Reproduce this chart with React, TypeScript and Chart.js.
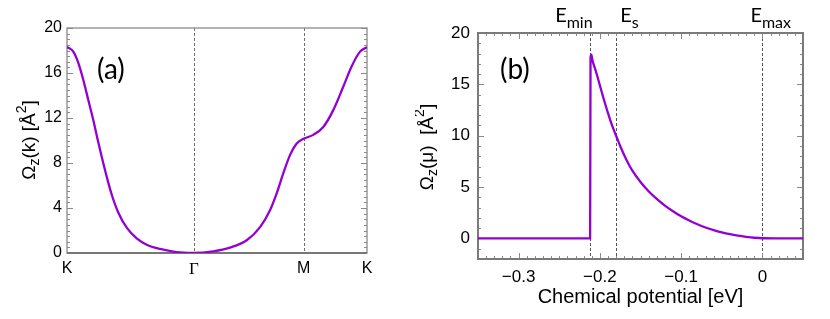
import React, { useEffect, useRef } from 'react';
import { Chart, registerables } from 'chart.js';

Chart.register(...registerables);

const PURPLE = '#9400D3';
const SANS = '"Liberation Sans", Arial, sans-serif';
const SERIF = '"Liberation Serif", "DejaVu Serif", serif';
const HUM = 'Lato, "Open Sans", sans-serif';

// ---------- Panel (a): Omega_z(k) along K-Γ-M-K ----------
const kPathLabels = ['K', 'Γ', 'M', 'K'];
const kPathPositions = [0, 1.3333, 2.488, 3.1547];
const kValues = [0, 0.014, 0.066, 0.119, 0.171, 0.224, 0.277, 0.319, 0.365, 0.417, 0.47, 0.539, 0.628, 0.733, 0.838, 0.978, 1.118, 1.188, 1.3333, 1.538, 1.714, 1.89, 2.03, 2.135, 2.205, 2.275, 2.345, 2.416, 2.488, 2.59, 2.695, 2.8, 2.906, 2.994, 3.081, 3.1547];
const omegaK = [18.3, 18.25, 17.9, 16.9, 15.4, 13.6, 11.8, 10.2, 8.55, 6.8, 5.2, 3.6, 2.25, 1.3, 0.74, 0.36, 0.13, 0.06, 0, 0.15, 0.48, 1.13, 2.3, 3.8, 5.3, 7.1, 8.7, 9.74, 10.15, 10.5, 11.2, 12.7, 14.8, 16.6, 17.9, 18.3];
const yTicksA = [0, 4, 8, 12, 16, 20];
const yMinorStepA = 0.5;

// ---------- Panel (b): Omega_z(mu) vs chemical potential ----------
const muValues = [-0.35, -0.212, -0.2115, -0.2105, -0.209, -0.205, -0.2, -0.195, -0.19, -0.185, -0.18, -0.175, -0.17, -0.165, -0.16, -0.15, -0.14, -0.13, -0.12, -0.11, -0.1, -0.09, -0.08, -0.07, -0.06, -0.05, -0.04, -0.03, -0.02, -0.01, 0, 0.05];
const omegaMu = [0, 0, 17.6, 17.9, 17.3, 16.3, 14.9, 13.5, 12.2, 11.0, 10.0, 9.0, 8.1, 7.3, 6.6, 5.5, 4.6, 3.85, 3.2, 2.65, 2.15, 1.74, 1.38, 1.07, 0.81, 0.59, 0.41, 0.27, 0.16, 0.07, 0.02, 0];
const xTicksB = [-0.3, -0.2, -0.1, 0];
const yTicksB = [0, 5, 10, 15, 20];
const xMinorStepB = 0.01;
const yMinorStepB = 1;
const markerSubs = ['min', 's', 'max'];
const markerMu = [-0.212, -0.18, 0];

type Part = { t: string; size: number; dy?: number; family?: string };

function drawRich(ctx: CanvasRenderingContext2D, parts: Part[], x: number, y: number, align: 'left' | 'center') {
  let w = 0;
  parts.forEach((p) => {
    ctx.font = `${p.size}px ${p.family || SANS}`;
    w += ctx.measureText(p.t).width;
  });
  let cx = align === 'center' ? x - w / 2 : x;
  ctx.textAlign = 'left';
  parts.forEach((p) => {
    ctx.font = `${p.size}px ${p.family || SANS}`;
    ctx.fillText(p.t, cx, y + (p.dy || 0));
    cx += ctx.measureText(p.t).width;
  });
}

function minorList(min: number, max: number, step: number) {
  const out: number[] = [];
  const n = Math.round((max - min) / step);
  for (let i = 0; i <= n; i++) out.push(min + i * step);
  return out;
}

function hLine(ctx: CanvasRenderingContext2D, x1: number, y1: number, x2: number, y2: number) {
  ctx.beginPath();
  ctx.moveTo(x1, y1);
  ctx.lineTo(x2, y2);
  ctx.stroke();
}

const decorA = {
  id: 'decorA',
  beforeDatasetsDraw(chart: any) {
    const { ctx, chartArea: a, scales } = chart;
    const x = scales.x, y = scales.y;
    ctx.save();
    ctx.strokeStyle = '#707070';
    ctx.lineWidth = 1;
    ctx.setLineDash([3, 2]);
    [kPathPositions[1], kPathPositions[2]].forEach((v) => {
      const px = Math.round(x.getPixelForValue(v)) + 0.5;
      hLine(ctx, px, a.top, px, a.bottom);
    });
    ctx.setLineDash([]);
    ctx.strokeStyle = '#8a8a8a';
    ctx.lineWidth = 1;
    minorList(0, 20, yMinorStepA).forEach((v) => {
      const py = Math.round(y.getPixelForValue(v)) + 0.5;
      const len = yTicksA.includes(v) ? 6 : 3;
      hLine(ctx, a.left, py, a.left + len, py);
      hLine(ctx, a.right, py, a.right - len, py);
    });
    ctx.strokeStyle = '#8a8a8a';
    ctx.lineWidth = 1.3;
    ctx.strokeRect(a.left, a.top, a.right - a.left, a.bottom - a.top);
    ctx.strokeStyle = '#777777';
    ctx.lineWidth = 2;
    hLine(ctx, a.left, a.bottom, a.right, a.bottom);
    ctx.restore();
  },
  afterDraw(chart: any) {
    const { ctx } = chart;
    ctx.save();
    ctx.fillStyle = '#000';
    ctx.textBaseline = 'alphabetic';
    drawRich(ctx, [{ t: '(a)', size: 28, family: HUM }], 97, 79, 'left');
    ctx.translate(35, 140);
    ctx.rotate(-Math.PI / 2);
    drawRich(ctx, [
      { t: 'Ω', size: 19 },
      { t: 'z', size: 14, dy: 4 },
      { t: '(k) [Å', size: 19 },
      { t: '2', size: 14, dy: -9 },
      { t: ']', size: 19 },
    ], 0, 0, 'center');
    ctx.restore();
  },
};

const decorB = {
  id: 'decorB',
  beforeDatasetsDraw(chart: any) {
    const { ctx, chartArea: a, scales } = chart;
    const x = scales.x, y = scales.y;
    ctx.save();
    ctx.strokeStyle = '#555555';
    ctx.lineWidth = 1;
    ctx.setLineDash([3, 2]);
    markerMu.forEach((v) => {
      const px = Math.round(x.getPixelForValue(v)) + 0.5;
      hLine(ctx, px, a.top, px, a.bottom);
    });
    ctx.setLineDash([]);
    ctx.strokeStyle = '#8a8a8a';
    ctx.lineWidth = 1;
    minorList(-2, 20, yMinorStepB).forEach((v) => {
      const py = Math.round(y.getPixelForValue(v)) + 0.5;
      const len = yTicksB.includes(v) ? 6 : 3;
      hLine(ctx, a.left, py, a.left + len, py);
      hLine(ctx, a.right, py, a.right - len, py);
    });
    minorList(-0.35, 0.05, xMinorStepB).forEach((v) => {
      const px = Math.round(x.getPixelForValue(v)) + 0.5;
      const major = xTicksB.some((t) => Math.abs(t - v) < 1e-6);
      const len = major ? 6 : 3;
      hLine(ctx, px, a.bottom, px, a.bottom - len);
      hLine(ctx, px, a.top, px, a.top + len);
    });
    ctx.strokeStyle = '#7a7a7a';
    ctx.lineWidth = 2;
    ctx.strokeRect(a.left, a.top, a.right - a.left, a.bottom - a.top);
    ctx.restore();
  },
  afterDraw(chart: any) {
    const { ctx, chartArea: a, scales } = chart;
    const x = scales.x;
    ctx.save();
    ctx.fillStyle = '#000';
    ctx.textBaseline = 'alphabetic';
    drawRich(ctx, [{ t: '(b)', size: 28, family: HUM }], 85, 79, 'left');
    const offs = [-35, 4, -12];
    markerMu.forEach((v, i) => {
      const px = x.getPixelForValue(v);
      drawRich(ctx, [
        { t: 'E', size: 20, family: HUM },
        { t: markerSubs[i], size: 16, dy: 6, family: HUM },
      ], px + offs[i], 22, 'left');
    });
    ctx.textBaseline = 'middle';
    drawRich(ctx, [{ t: 'Chemical potential [eV]', size: 20 }], (a.left + a.right) / 2, 297, 'center');
    ctx.textBaseline = 'alphabetic';
    ctx.translate(18, 147);
    ctx.rotate(-Math.PI / 2);
    drawRich(ctx, [
      { t: 'Ω', size: 19 },
      { t: 'z', size: 14, dy: 4 },
      { t: '(μ)  [Å', size: 19 },
      { t: '2', size: 14, dy: -9 },
      { t: ']', size: 19 },
    ], 0, 0, 'center');
    ctx.restore();
  },
};

function fmtMinus(v: number) {
  const s = Math.abs(v) < 1e-9 ? '0' : String(Math.round(v * 10) / 10);
  return s.replace('-', '−');
}

export default function App() {
  const refA = useRef<HTMLCanvasElement>(null);
  const refB = useRef<HTMLCanvasElement>(null);

  useEffect(() => {
    const chartA = new Chart(refA.current as HTMLCanvasElement, {
      type: 'line',
      data: {
        datasets: [{
          data: kValues.map((k, i) => ({ x: k, y: omegaK[i] })),
          borderColor: PURPLE,
          borderWidth: 2.3,
          pointRadius: 0,
          fill: false,
          cubicInterpolationMode: 'monotone',
        }],
      },
      options: {
        animation: false,
        responsive: false,
        devicePixelRatio: 1,
        layout: { padding: { left: 0, right: 48, top: 28, bottom: 0 } },
        plugins: { legend: { display: false }, tooltip: { enabled: false } },
        scales: {
          x: {
            type: 'linear',
            min: 0,
            max: kPathPositions[3],
            afterBuildTicks: (s: any) => { s.ticks = kPathPositions.map((v) => ({ value: v })); },
            afterFit: (s: any) => { s.height = 66; },
            grid: { display: false, drawTicks: false },
            border: { display: false },
            ticks: {
              autoSkip: false,
              maxRotation: 0,
              padding: 6,
              color: '#000',
              font: (c: any) => (c.index === 1 ? { family: SERIF, size: 17 } : { family: SANS, size: 16 }),
              callback: (_v: any, i: number) => kPathLabels[i],
            },
          },
          y: {
            type: 'linear',
            min: 0,
            max: 20,
            afterBuildTicks: (s: any) => { s.ticks = yTicksA.map((v) => ({ value: v })); },
            afterFit: (s: any) => { s.width = 67; },
            grid: { display: false, drawTicks: false },
            border: { display: false },
            ticks: { padding: 5, color: '#000', font: { family: SANS, size: 16 } },
          },
        },
      } as any,
      plugins: [decorA],
    });

    const chartB = new Chart(refB.current as HTMLCanvasElement, {
      type: 'line',
      data: {
        datasets: [{
          data: muValues.map((m, i) => ({ x: m, y: omegaMu[i] })),
          borderColor: PURPLE,
          borderWidth: 2.3,
          pointRadius: 0,
          fill: false,
          cubicInterpolationMode: 'monotone',
        }],
      },
      options: {
        animation: false,
        responsive: false,
        devicePixelRatio: 1,
        layout: { padding: { left: 0, right: 27, top: 33, bottom: 0 } },
        plugins: { legend: { display: false }, tooltip: { enabled: false } },
        scales: {
          x: {
            type: 'linear',
            min: -0.35,
            max: 0.05,
            afterBuildTicks: (s: any) => { s.ticks = xTicksB.map((v) => ({ value: v })); },
            afterFit: (s: any) => { s.height = 60; },
            grid: { display: false, drawTicks: false },
            border: { display: false },
            ticks: {
              autoSkip: false,
              maxRotation: 0,
              padding: 8,
              color: '#000',
              font: { family: SANS, size: 17 },
              callback: (v: any) => fmtMinus(Number(v)),
            },
          },
          y: {
            type: 'linear',
            min: -2,
            max: 20,
            afterBuildTicks: (s: any) => { s.ticks = yTicksB.map((v) => ({ value: v })); },
            afterFit: (s: any) => { s.width = 63; },
            grid: { display: false, drawTicks: false },
            border: { display: false },
            ticks: { padding: 8, color: '#000', font: { family: SANS, size: 17 } },
          },
        },
      } as any,
      plugins: [decorB],
    });

    return () => {
      chartA.destroy();
      chartB.destroy();
    };
  }, []);

  return (
    <div style={{ position: 'absolute', left: 0, top: 0, width: 830, height: 319, background: '#fff' }}>
      <canvas ref={refA} width={415} height={319} style={{ position: 'absolute', left: 0, top: 0, width: 415, height: 319 }} />
      <canvas ref={refB} width={415} height={319} style={{ position: 'absolute', left: 415, top: 0, width: 415, height: 319 }} />
    </div>
  );
}
